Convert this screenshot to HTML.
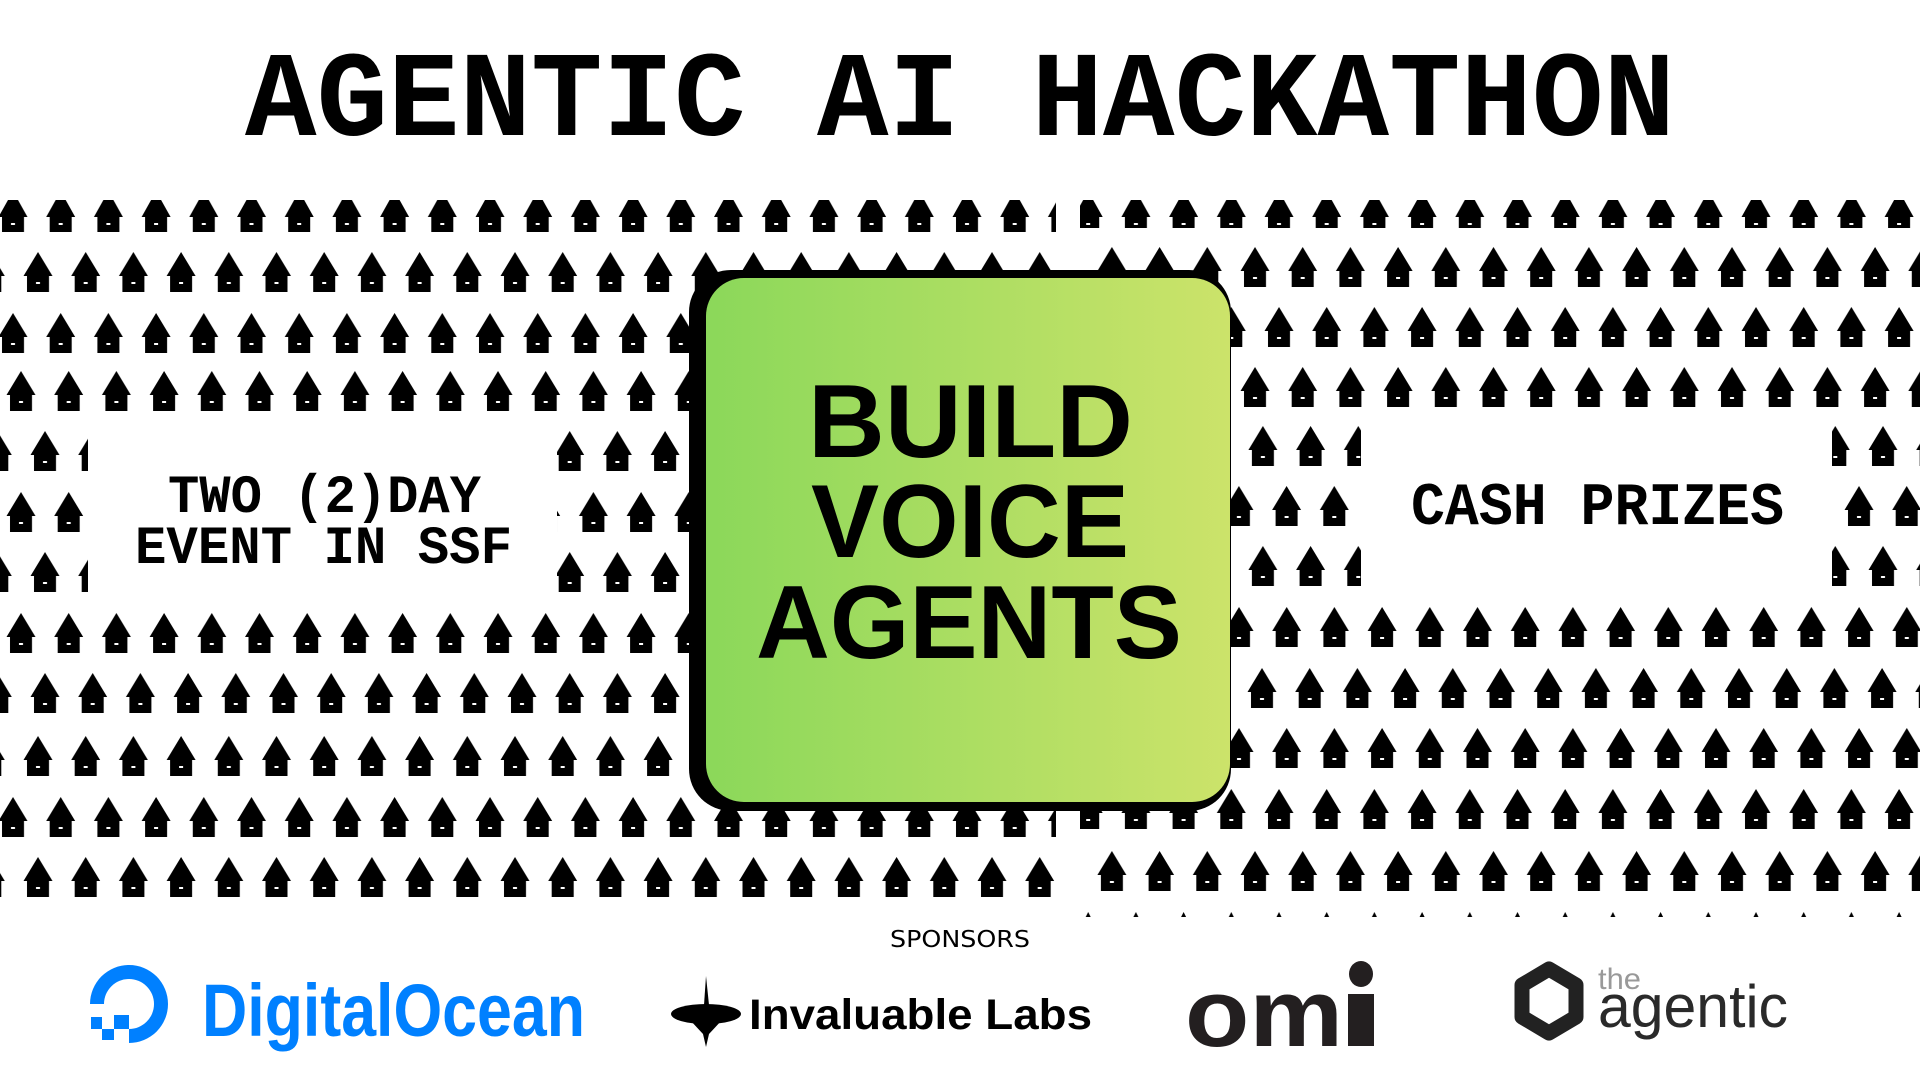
<!DOCTYPE html>
<html><head><meta charset="utf-8"><style>html,body{margin:0;padding:0;background:#fff;}svg{display:block}</style></head>
<body>
<svg width="1920" height="1080" viewBox="0 0 1920 1080" xmlns="http://www.w3.org/2000/svg">
<defs>
<pattern id="tall" patternUnits="userSpaceOnUse" x="0" y="0" width="47.7" height="40">
<path d="M14.5 0 L29 24 L25.5 24 L25.5 40 L3.5 40 L3.5 24 L0 24 Z" fill="#000"/>
<rect x="12.5" y="30" width="4" height="2" fill="#fff"/>
</pattern>
<pattern id="squat" patternUnits="userSpaceOnUse" x="0" y="0" width="47.7" height="32">
<path d="M9.5 0 L19.5 0 L29 17 L25.5 17 L25.5 32 L3.5 32 L3.5 17 L0 17 Z" fill="#000"/>
<rect x="12.5" y="23" width="4" height="2" fill="#fff"/>
</pattern>
<pattern id="tiny" patternUnits="userSpaceOnUse" x="0" y="0" width="47.7" height="5">
<path d="M14.5 0 L17 5 L12 5 Z" fill="#000"/>
</pattern>
<clipPath id="cl"><rect x="0" y="0" width="1056" height="900"/></clipPath>
<clipPath id="cr"><rect x="1080" y="0" width="840" height="917"/></clipPath>
<linearGradient id="gg" x1="0" y1="0" x2="1" y2="0">
<stop offset="0" stop-color="#8bd85a"/><stop offset="1" stop-color="#cce36a"/>
</linearGradient>
</defs>
<rect width="1920" height="1080" fill="#fff"/>

<g clip-path="url(#cl)">
<rect transform="translate(-1.5,200)" x="-2000" y="0" width="4000" height="32" fill="url(#squat)"/>
<rect transform="translate(23.5,252)" x="-2000" y="0" width="4000" height="40" fill="url(#tall)"/>
<rect transform="translate(-1.5,313)" x="-2000" y="0" width="4000" height="40" fill="url(#tall)"/>
<rect transform="translate(6.5,371)" x="-2000" y="0" width="4000" height="40" fill="url(#tall)"/>
<rect transform="translate(30.5,431)" x="-2000" y="0" width="4000" height="40" fill="url(#tall)"/>
<rect transform="translate(6.5,492)" x="-2000" y="0" width="4000" height="40" fill="url(#tall)"/>
<rect transform="translate(30.5,552)" x="-2000" y="0" width="4000" height="40" fill="url(#tall)"/>
<rect transform="translate(6.5,613)" x="-2000" y="0" width="4000" height="40" fill="url(#tall)"/>
<rect transform="translate(30.5,673)" x="-2000" y="0" width="4000" height="40" fill="url(#tall)"/>
<rect transform="translate(23.5,736)" x="-2000" y="0" width="4000" height="40" fill="url(#tall)"/>
<rect transform="translate(-1.5,797)" x="-2000" y="0" width="4000" height="40" fill="url(#tall)"/>
<rect transform="translate(23.5,857)" x="-2000" y="0" width="4000" height="40" fill="url(#tall)"/>
</g>
<g clip-path="url(#cr)">
<rect transform="translate(1741.5,200)" x="-2000" y="0" width="4000" height="28" fill="url(#squat)"/>
<rect transform="translate(1717.5,247)" x="-2000" y="0" width="4000" height="40" fill="url(#tall)"/>
<rect transform="translate(1741.5,307)" x="-2000" y="0" width="4000" height="40" fill="url(#tall)"/>
<rect transform="translate(1717.5,367)" x="-2000" y="0" width="4000" height="40" fill="url(#tall)"/>
<rect transform="translate(1868.5,426)" x="-2000" y="0" width="4000" height="40" fill="url(#tall)"/>
<rect transform="translate(1844.5,486)" x="-2000" y="0" width="4000" height="40" fill="url(#tall)"/>
<rect transform="translate(1868.5,546)" x="-2000" y="0" width="4000" height="40" fill="url(#tall)"/>
<rect transform="translate(1701.5,607)" x="-2000" y="0" width="4000" height="40" fill="url(#tall)"/>
<rect transform="translate(1724.5,668)" x="-2000" y="0" width="4000" height="40" fill="url(#tall)"/>
<rect transform="translate(1701.5,728)" x="-2000" y="0" width="4000" height="40" fill="url(#tall)"/>
<rect transform="translate(1741.5,789)" x="-2000" y="0" width="4000" height="40" fill="url(#tall)"/>
<rect transform="translate(1717.5,851)" x="-2000" y="0" width="4000" height="40" fill="url(#tall)"/>
<rect transform="translate(1741.5,912)" x="-2000" y="0" width="4000" height="5" fill="url(#tiny)"/>
</g>

<rect x="88" y="420" width="469" height="180" fill="#fff"/>
<rect x="1361" y="418" width="471" height="180" fill="#fff"/>

<rect x="689" y="270" width="542" height="541" rx="42" fill="#000"/>
<rect x="706" y="278" width="524" height="524" rx="38" fill="url(#gg)"/>

<g font-family="Liberation Sans, sans-serif" font-weight="bold" fill="#000" font-size="104">
<text x="808" y="457" textLength="325" lengthAdjust="spacingAndGlyphs">BUILD</text>
<text x="811" y="557" textLength="318" lengthAdjust="spacingAndGlyphs">VOICE</text>
<text x="756" y="658" textLength="426" lengthAdjust="spacingAndGlyphs">AGENTS</text>
</g>

<g font-family="Liberation Mono, monospace" font-weight="bold" fill="#000">
<text x="245" y="135" font-size="122" textLength="1430" lengthAdjust="spacingAndGlyphs">AGENTIC AI HACKATHON</text>
<text x="168" y="512" font-size="54" textLength="313" lengthAdjust="spacingAndGlyphs" xml:space="preserve">TWO (2)DAY</text>
<text x="135" y="563" font-size="54" textLength="377" lengthAdjust="spacingAndGlyphs">EVENT IN SSF</text>
<text x="1411" y="524" font-size="60" textLength="373" lengthAdjust="spacingAndGlyphs">CASH PRIZES</text>
</g>

<text x="890" y="947" font-family="DejaVu Sans, sans-serif" font-size="23" fill="#000" textLength="140" lengthAdjust="spacingAndGlyphs" font-weight="normal">SPONSORS</text>

<g fill="#0080ff">
<path d="M129 1043 L129 1029 A25 25 0 1 0 104 1004 L90 1004 A39 39 0 1 1 129 1043 Z"/>
<rect x="114" y="1015" width="15" height="14"/>
<rect x="102" y="1029" width="12" height="11"/>
<rect x="91" y="1017" width="11" height="12"/>
<text x="202" y="1036" font-family="Liberation Sans, sans-serif" font-weight="bold" font-size="74" textLength="383" lengthAdjust="spacingAndGlyphs">DigitalOcean</text>
</g>

<g fill="#000">
<path d="M706 976 L709 1005 L704 1005 Z"/>
<ellipse cx="706" cy="1014" rx="35" ry="10"/>
<path d="M690 1020 L722 1020 L709 1034 L706 1047 L703 1034 Z"/>
<text x="749" y="1029" font-family="Liberation Sans, sans-serif" font-weight="bold" font-size="43" textLength="343" lengthAdjust="spacingAndGlyphs">Invaluable Labs</text>
</g>

<g fill="#231f20">
<text x="1185" y="1046" font-family="Liberation Sans, sans-serif" font-weight="bold" font-size="96" textLength="158" lengthAdjust="spacingAndGlyphs">om</text>
<rect x="1348" y="994" width="26" height="52"/>
<ellipse cx="1361" cy="974" rx="12" ry="13"/>
</g>

<path d="M1549 969 L1576 985 L1576 1017 L1549 1033 L1522 1017 L1522 985 Z" fill="none" stroke="#222" stroke-width="15" stroke-linejoin="round"/>
<text x="1598" y="989" font-family="Liberation Sans, sans-serif" font-size="30" fill="#999" textLength="43" lengthAdjust="spacingAndGlyphs">the</text>
<text x="1598" y="1027" font-family="Liberation Sans, sans-serif" font-size="60" fill="#2a2a2a" textLength="190" lengthAdjust="spacingAndGlyphs">agentic</text>
</svg>
</body></html>
